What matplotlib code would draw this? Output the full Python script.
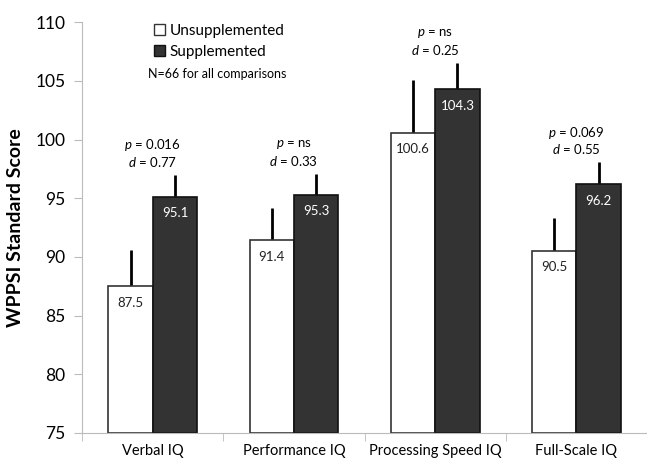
import matplotlib.pyplot as plt
import numpy as np
from matplotlib.patches import Patch

plt.rcParams['font.family'] = ['Lato', 'DejaVu Sans']
plt.rcParams['mathtext.fontset'] = 'custom'
plt.rcParams['mathtext.it'] = 'Lato:italic'
plt.rcParams['mathtext.rm'] = 'Lato'

categories = ['Verbal IQ', 'Performance IQ', 'Processing Speed IQ', 'Full-Scale IQ']
unsupp = [87.5, 91.4, 100.6, 90.5]
supp = [95.1, 95.3, 104.3, 96.2]
unsupp_err = [3.1, 2.8, 4.5, 2.8]
supp_err = [1.9, 1.8, 2.2, 1.9]
p_vals = ['0.016', 'ns', 'ns', '0.069']
d_vals = ['0.77', '0.33', '0.25', '0.55']

fig = plt.figure(figsize=(6.47, 4.63), dpi=100)
ax = fig.add_axes([0.127, 0.065, 0.873, 0.887])

x = np.arange(len(categories))
w = 0.315
base = 75

ax.bar(x - w/2, np.array(unsupp) - base, w, bottom=base, color='white', edgecolor='#333333', linewidth=1.2, zorder=2)
ax.bar(x + w/2, np.array(supp) - base, w, bottom=base, color='#333333', edgecolor='#111111', linewidth=1.2, zorder=2)

# error bars, upper half only
ax.vlines(x - w/2, unsupp, np.array(unsupp) + np.array(unsupp_err), color='black', linewidth=2, zorder=1)
ax.vlines(x + w/2, supp, np.array(supp) + np.array(supp_err), color='black', linewidth=2, zorder=1)

for i in range(len(categories)):
    ax.text(x[i] - w/2, unsupp[i] - 1.4, f'{unsupp[i]:.1f}', ha='center', va='center', fontsize=9.5, color='#222222')
    ax.text(x[i] + w/2, supp[i] - 1.4, f'{supp[i]:.1f}', ha='center', va='center', fontsize=9.5, color='white')
    top = max(unsupp[i] + unsupp_err[i], supp[i] + supp_err[i])
    ax.text(x[i], top + 2.5, f'$p$ = {p_vals[i]}', ha='center', va='center', fontsize=9.5)
    ax.text(x[i], top + 1.1, f'$d$ = {d_vals[i]}', ha='center', va='center', fontsize=9.5)

ax.set_ylim(75, 110)
ax.set_xlim(-0.5, 3.5)
ax.set_yticks(np.arange(75, 111, 5))
ax.set_ylabel('WPPSI Standard Score', fontsize=14, fontweight='bold', labelpad=8)

ax.set_xticks(x)
ax.set_xticklabels(categories, fontsize=10.5)
ax.tick_params(axis='x', length=0, pad=8)
ax.set_xticks(np.arange(-0.5, 4.0, 1), minor=True)
ax.tick_params(axis='x', which='minor', length=6, color='#bbbbbb')
ax.tick_params(axis='y', labelsize=12.5, length=6, color='#bbbbbb', pad=6)

for s in ['top', 'right']:
    ax.spines[s].set_visible(False)
ax.spines['left'].set_color('#bbbbbb')
ax.spines['bottom'].set_color('#bbbbbb')

handles = [Patch(facecolor='white', edgecolor='#333333', label='Unsupplemented'),
           Patch(facecolor='#333333', edgecolor='#111111', label='Supplemented')]
ax.legend(handles=handles, loc='upper left', bbox_to_anchor=(0.103, 1.03), frameon=False,
          fontsize=11, handlelength=0.7, handleheight=0.7, handletextpad=0.3, labelspacing=0.45)
ax.text(-0.5 + 0.117 * 4, 105.6, 'N=66 for all comparisons', fontsize=9, va='center', ha='left')

fig.savefig('out.png', dpi=100)
